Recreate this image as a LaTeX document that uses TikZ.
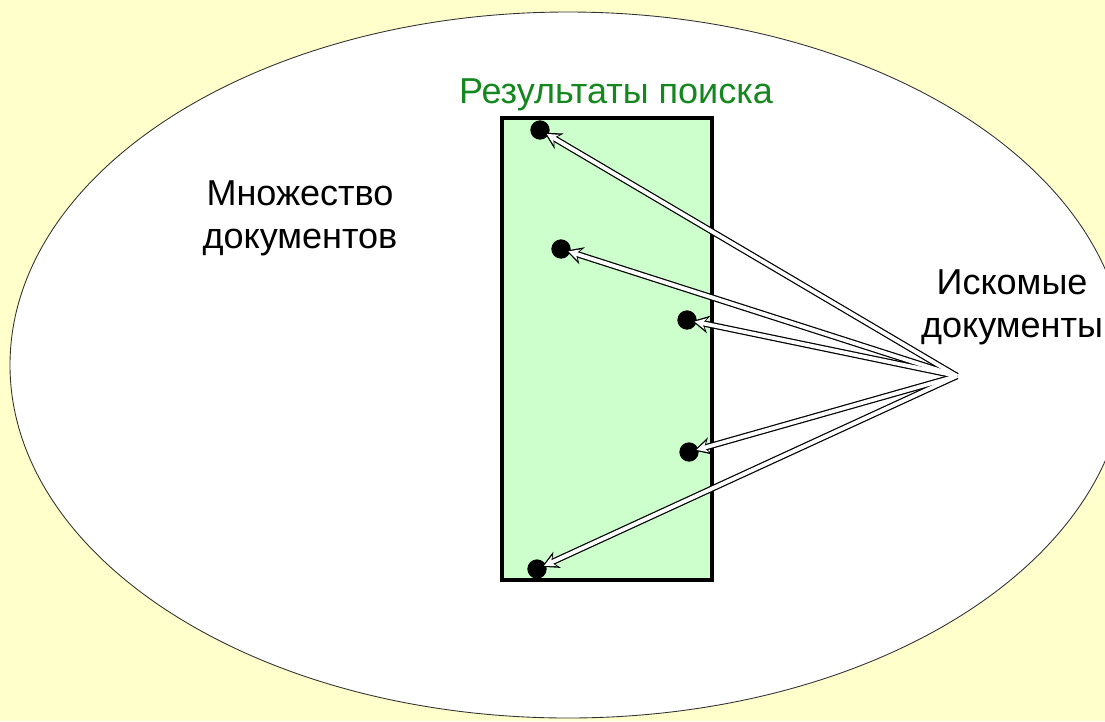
\documentclass[tikz,border=0pt]{standalone}
\usepackage{fontspec}
\setmainfont{Liberation Sans}
\usetikzlibrary{arrows.meta}
\definecolor{bgyellow}{HTML}{FFFFCC}
\definecolor{resgreen}{HTML}{CCFFCC}
\definecolor{titlegreen}{HTML}{14871E}
\tikzset{
  doc/.style={shape=circle,fill=black,inner sep=0pt,minimum size=11pt},
  txt/.style={align=center,font=\fontsize{20.5}{24.5}\selectfont},
  outerarrow/.style={draw=black,line width=3.6pt,-{Stealth[length=9.5pt,width=10pt]}},
  innerarrow/.style={draw=white,line width=2.2pt,-{Stealth[length=6.5pt,width=6.5pt]}}
}
\begin{document}
\begin{tikzpicture}[x=0.02cm,y=-0.02cm]
            \useasboundingbox (0,0) rectangle (1105,721);
            \fill[bgyellow] (0,0) rectangle (1105,721);
            \begin{scope}
            \clip (0,0) rectangle (1105,721);
            \draw[fill=white,draw=black!80,line width=0.5pt] (568,365) ellipse [x radius=558, y radius=353];
            \end{scope}
            \draw[fill=resgreen,line width=2.3pt] (502,118) rectangle (712,580);
            \node (title) at (616,95) [txt,text=titlegreen] {Результаты поиска};
            \node (all) at (300,218) [txt] {Множество\\документов};
            \node (wanted) at (1012,307) [txt,inner sep=0pt] {Искомые\\документы};
            \coordinate (src) at (957,376);
            \node (d1) at (540,130) [doc] {};
            \node (d2) at (561,249) [doc] {};
            \node (d3) at (687,320) [doc] {};
            \node (d4) at (689,452) [doc] {};
            \node (d5) at (537,569) [doc] {};
            \foreach \i in {1,...,5}
              \draw[outerarrow] (src) -- (d\i.center) [shorten >=3pt];
            \foreach \i in {1,...,5}
              \draw[innerarrow] (src) -- (d\i.center) [shorten >=4.4pt];
        \end{tikzpicture}
\end{document}
